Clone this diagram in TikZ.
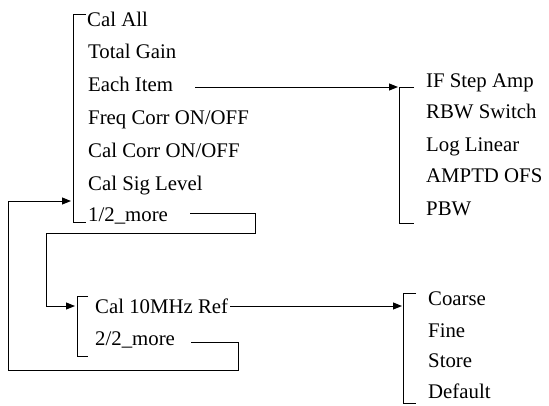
\documentclass[tikz,border=0pt]{standalone}
\usepackage{fontspec}
\setmainfont{Liberation Serif}
\usetikzlibrary{arrows.meta}
\begin{document}
\begin{tikzpicture}[x=1pt,y=-1pt,
  item/.style={anchor=base west,inner sep=0pt,font=\fontsize{20.8}{24}\selectfont},
  wire/.style={line width=1pt},
  arr/.style={wire,-{Triangle[length=9pt,width=7pt]}}]
\useasboundingbox (0,0) rectangle (549,405);
% main menu
\node[item] (calall) at (87,26) {Cal All};
\node[item] (total) at (88,58) {Total Gain};
\node[item] (each) at (88,91) {Each Item};
\node[item] (freq) at (88,124) {Freq Corr ON/OFF};
\node[item] (calcorr) at (88,157) {Cal Corr ON/OFF};
\node[item] (sig) at (88,190) {Cal Sig Level};
\node[item] (more1) at (88,221) {1/2\_more};
% second page
\node[item] (cal10) at (95,313) {Cal 10MHz Ref};
\node[item] (more2) at (95,345) {2/2\_more};
% each item submenu
\node[item] (ifstep) at (426,87) {IF Step Amp};
\node[item] (rbw) at (426,118) {RBW Switch};
\node[item] (loglin) at (426,151) {Log Linear};
\node[item] (amptd) at (426,182) {AMPTD OFS};
\node[item] (pbw) at (426,215) {PBW};
% 10MHz submenu
\node[item] (coarse) at (428,305) {Coarse};
\node[item] (fine) at (428,337) {Fine};
\node[item] (store) at (428,367) {Store};
\node[item] (default) at (428,398) {Default};
% brackets
\coordinate (b1t) at (73,14); \coordinate (b1b) at (73,222);
\coordinate (b2t) at (399,87); \coordinate (b2b) at (399,223);
\coordinate (b3t) at (77,296); \coordinate (b3b) at (77,356);
\coordinate (b4t) at (403,293); \coordinate (b4b) at (403,403);
\draw[wire] ([xshift=13pt]b1t) -- (b1t) -- (b1b) -- ([xshift=13pt]b1b);
\draw[wire] ([xshift=15pt]b2t) -- (b2t) -- (b2b) -- ([xshift=15pt]b2b);
\draw[wire] ([xshift=11pt]b3t) -- (b3t) -- (b3b) -- ([xshift=11pt]b3b);
\draw[wire] ([xshift=13pt]b4t) -- (b4t) -- (b4b) -- ([xshift=13pt]b4b);
% connectors
\coordinate (in1) at (71,201);
\coordinate (in3) at (75,306);
\coordinate (in2) at (398,87);
\coordinate (in4) at (402,306);
\draw[arr] (each.east |- in2) ++(22,0) -- (in2);
\draw[arr] (cal10.east |- in4) ++(2,0) -- (in4);
\draw[arr] ([xshift=22pt,yshift=8pt]more1.base east) -| (255,233) -| (46,306) -- (in3);
\draw[arr] ([xshift=16pt,yshift=3pt]more2.base east) -| (238,370) -| (8,201) -- (in1);
\end{tikzpicture}
\end{document}
